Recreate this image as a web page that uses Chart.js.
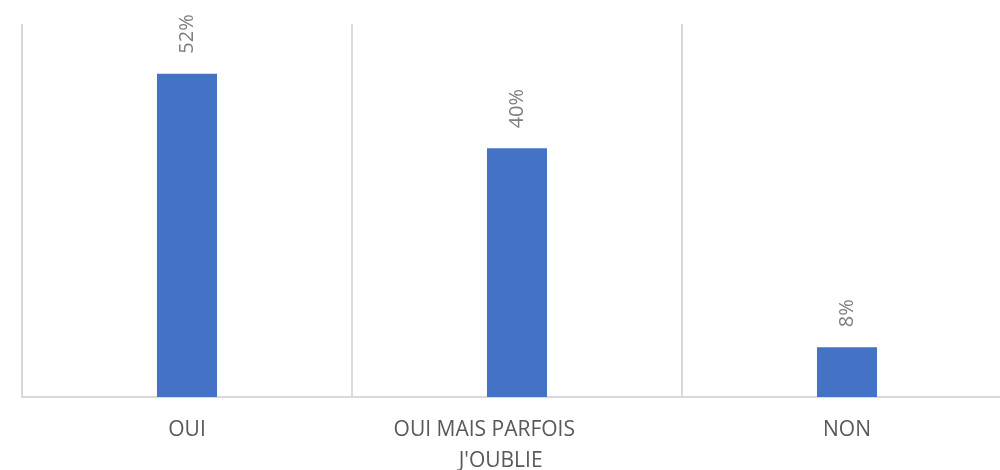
<!DOCTYPE html>
<html lang="fr">
<head>
    <meta charset="UTF-8">
    <title>Réponses</title>
    <script src="https://cdn.jsdelivr.net/npm/chart.js"></script>
    <style>
        html, body { margin: 0; padding: 0; background: #fff; overflow: hidden; }
        #wrap { width: 1012px; height: 470px; }
    </style>
</head>
<body>
    <div id="wrap">
        <canvas id="answersChart" width="1012" height="470"></canvas>
    </div>

    <script>
        // trailing spaces keep the wrapped label offset like the original
        const categories = [
            'OUI',
            ['OUI MAIS PARFOIS\u00a0\u00a0\u00a0\u00a0\u00a0\u00a0\u00a0\u00a0\u00a0\u00a0\u00a0\u00a0',
             "J'OUBLIE\u00a0\u00a0\u00a0\u00a0\u00a0\u00a0"],
            'NON'
        ];
        const shares = [0.52, 0.40, 0.08];

        const FONT = "'Open Sans', 'DejaVu Sans', sans-serif";

        // rotated percentage labels above each bar
        const valueLabels = {
            id: 'valueLabels',
            afterDatasetsDraw(chart) {
                const ctx = chart.ctx;
                const meta = chart.getDatasetMeta(0);
                ctx.save();
                ctx.fillStyle = '#7f7f7f';
                ctx.font = '20px ' + FONT;
                ctx.textAlign = 'left';
                ctx.textBaseline = 'middle';
                meta.data.forEach((bar, i) => {
                    const text = Math.round(shares[i] * 100) + '%';
                    ctx.save();
                    ctx.translate(bar.x, bar.y - 20);
                    ctx.rotate(-Math.PI / 2);
                    ctx.fillText(text, 0, 0);
                    ctx.restore();
                });
                ctx.restore();
            }
        };

        new Chart(document.getElementById('answersChart'), {
            type: 'bar',
            data: {
                labels: categories,
                datasets: [{
                    data: shares,
                    backgroundColor: '#4472C4',
                    borderWidth: 0,
                    categoryPercentage: 1,
                    barPercentage: 0.182
                }]
            },
            options: {
                responsive: false,
                animation: false,
                layout: { padding: { left: 22, right: 0, top: 24, bottom: 0 } },
                plugins: {
                    legend: { display: false },
                    tooltip: { enabled: false }
                },
                scales: {
                    x: {
                        grid: { color: '#d9d9d9', lineWidth: 2, drawTicks: false, offset: true },
                        border: { color: '#d9d9d9', width: 2 },
                        ticks: {
                            color: '#595959',
                            font: { family: FONT, size: 21, lineHeight: 1.48 },
                            padding: 17,
                            maxRotation: 0,
                            autoSkip: false
                        },
                        afterFit(scale) { scale.height = 73; }
                    },
                    y: {
                        display: false,
                        min: 0,
                        max: 0.6
                    }
                }
            },
            plugins: [valueLabels]
        });
    </script>
</body>
</html>
